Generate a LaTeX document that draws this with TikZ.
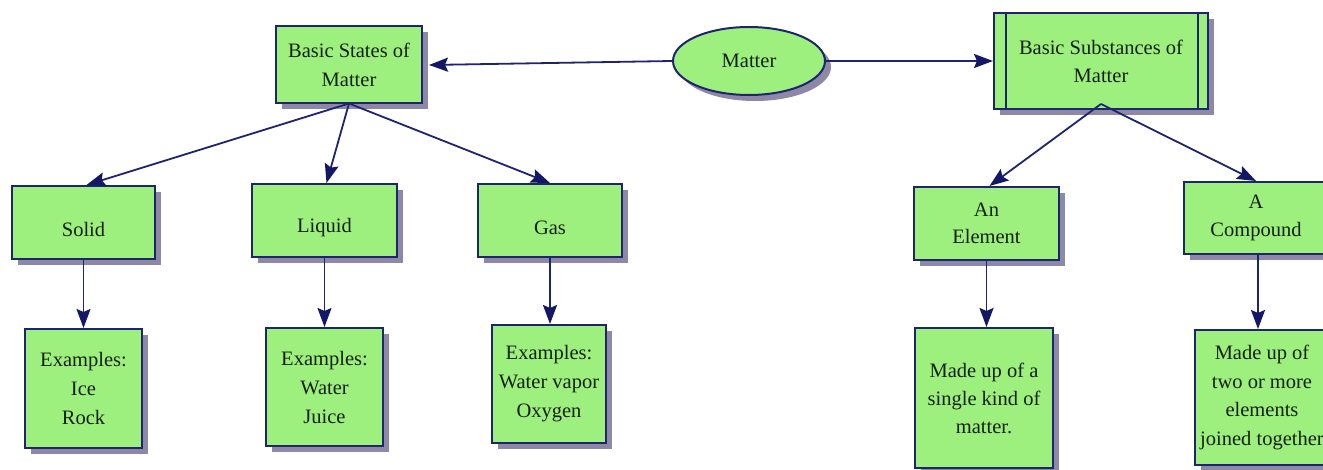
\documentclass[tikz,border=0pt]{standalone}
\usepackage{fontspec}
\setmainfont{Liberation Serif}
\usetikzlibrary{shapes.geometric,shadows,arrows.meta}
\definecolor{boxgreen}{HTML}{9EF07E}
\definecolor{navy}{HTML}{1E2470}
\definecolor{headnavy}{HTML}{121866}
\definecolor{shade}{HTML}{8C88A6}
\definecolor{ink}{HTML}{14200E}
\begin{document}
\begin{tikzpicture}[x=1pt,y=-1pt,
  box/.style={rectangle, draw=navy, line width=2pt, fill=boxgreen, inner sep=0pt,
    align=center, text=ink, font=\fontsize{20.5}{29}\selectfont,
    drop shadow={shadow xshift=6pt, shadow yshift=-6pt, fill=shade, opacity=1}},
  oval/.style={ellipse, draw=navy, line width=2pt, fill=boxgreen, inner sep=0pt,
    text=ink, font=\fontsize{20.5}{29}\selectfont,
    drop shadow={shadow xshift=6pt, shadow yshift=-6pt, fill=shade, opacity=1}},
  arr/.style={draw=navy, line width=1.8pt,
    -{Stealth[length=19pt,width=14pt,inset=3pt,fill=headnavy,color=headnavy]}},
  inner/.style={draw=navy, line width=1.8pt}]
\useasboundingbox (0,0) rectangle (1323,470);
\clip (0,0) rectangle (1323,470);
\fill[white] (0,0) rectangle (1323,470);

% top row
\node[box, minimum width=146pt, minimum height=77pt] (bsm) at (349,65) {Basic States of\\Matter};
\node[oval, minimum width=152pt, minimum height=68pt] (matter) at (749,61) {Matter};
\node[box, minimum width=214pt, minimum height=96pt, font=\fontsize{20.5}{28}\selectfont] (bsub) at (1101,61) {Basic Substances of\\Matter};
\draw[inner] ([xshift=13pt]bsub.north west) -- ([xshift=13pt]bsub.south west);
\draw[inner] ([xshift=-11pt]bsub.north east) -- ([xshift=-11pt]bsub.south east);

% second row
\node[box, minimum width=143pt, minimum height=73pt] (solid) at (83.5,222.5) {\mbox{}\\Solid};
\node[box, minimum width=145pt, minimum height=73pt] (liquid) at (324.5,220.5) {\mbox{}\\Liquid};
\node[box, minimum width=144pt, minimum height=73pt] (gas) at (550,220.5) {\mbox{}\\Gas};
\node[box, minimum width=145pt, minimum height=73pt, font=\fontsize{20.5}{27}\selectfont] (elem) at (986.5,223.5) {An\\Element};
\node[box, minimum width=144pt, minimum height=72pt, font=\fontsize{20.5}{28}\selectfont] (comp) at (1256,218) {A\\Compound};

% third row
\node[box, minimum width=117pt, minimum height=119pt] (ex1) at (83.5,388.5) {Examples:\\Ice\\Rock};
\node[box, minimum width=117pt, minimum height=118pt] (ex2) at (324.5,387) {Examples:\\Water\\Juice};
\node[box, minimum width=114pt, minimum height=118pt] (ex3) at (549,384) {Examples:\\Water vapor\\Oxygen};
\node[box, minimum width=138pt, minimum height=140pt, font=\fontsize{20.5}{28}\selectfont] (eldesc) at (984,398) {Made up of a\\single kind of\\matter.};
\node[box, minimum width=134pt, minimum height=135pt, font=\fontsize{20.5}{28.5}\selectfont] (cpdesc) at (1262,397.5) {Made up of\\two or more\\elements\\joined together};

% connectors
\draw[arr] (matter.west) -- ([xshift=6pt]bsm.east);
\draw[arr] (matter.east) -- (bsub.west);
\coordinate (bsmfoot) at ([yshift=1pt]bsm.south);
\draw[arr] (bsmfoot) -- ([xshift=3pt]solid.north);
\draw[arr] (bsmfoot) -- ([xshift=2pt]liquid.north);
\draw[arr] (bsmfoot) -- (gas.north);
\coordinate (bsubfoot) at ([yshift=6pt]bsub.south);
\draw[arr] (bsubfoot) -- ([xshift=3pt]elem.north);
\draw[arr] (bsubfoot) -- (comp.north);
\draw[arr] (solid.south) -- (ex1.north);
\draw[arr] (liquid.south) -- (ex2.north -| liquid.south);
\draw[arr] (gas.south) -- (ex3.north -| gas.south);
\draw[arr] (elem.south) -- (eldesc.north -| elem.south);
\coordinate (compfoot) at ([xshift=2pt]comp.south);
\draw[arr] (compfoot) -- (cpdesc.north -| compfoot);
\end{tikzpicture}
\end{document}
